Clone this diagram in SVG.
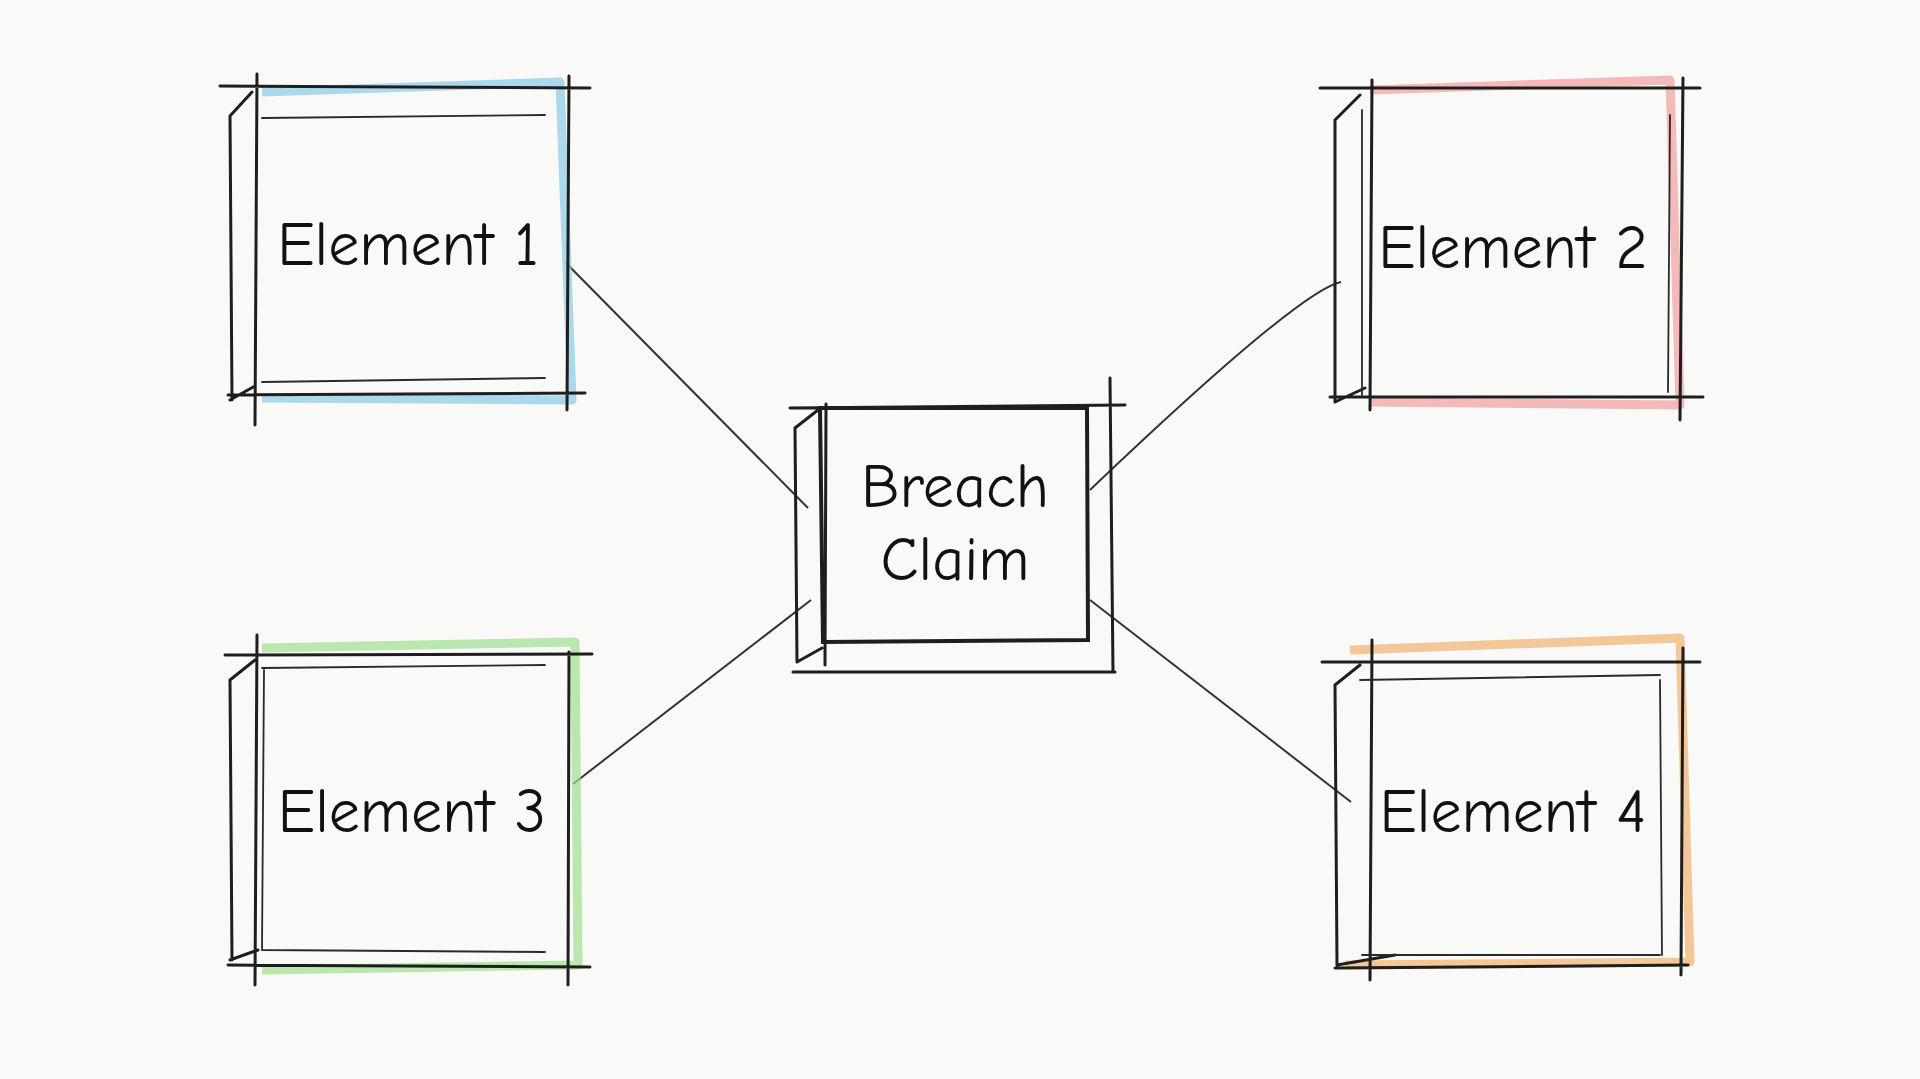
<svg xmlns="http://www.w3.org/2000/svg" width="1920" height="1079" viewBox="0 0 1920 1079">
<style>
.bg{fill:#f9f9f7}
.k{fill:none;stroke:#1e1e1e;stroke-width:3;stroke-linecap:round}
.k2{fill:none;stroke:#2a2a2a;stroke-width:1.8;stroke-linecap:round}
.c{fill:none;stroke-width:9;stroke-opacity:0.7;stroke-linejoin:round}
.t{font-family:"Comic Neue","Liberation Sans",sans-serif;font-size:62px;fill:#111;text-anchor:middle}
.conn{stroke:#333;stroke-width:2;fill:none}
</style>
<rect class="bg" width="1920" height="1079"/>
<g id="connectors">
<path class="conn" d="M566 263 L808 508"/>
<path class="conn" d="M1341 282 Q1300 290 1090 490"/>
<path class="conn" d="M573 784 L811 600"/>
<path class="conn" d="M1351 802 L1090 600"/>
</g>
<g id="element1">
<path class="c" stroke="#8ccbe6" d="M262 92 L560 82 L572 400 L262 398"/>
<path class="k" d="M220 86 L590 88 M257 74 L255 425 M569 76 L567 410 M228 395 L585 393 M230 116 L232 400 M230 116 L252 92 M230 400 L255 386"/>
<path class="k2" d="M262 118 L545 115 M262 382 L545 378"/>
<text class="t" x="408" y="265">Element 1</text>
</g>
<g id="element2">
<path class="c" stroke="#f2a0a0" d="M1370 90 L1670 80 L1680 405 L1370 402"/>
<path class="k" d="M1320 88 L1700 88 M1372 80 L1370 410 M1683 78 L1680 420 M1330 397 L1703 397 M1335 120 L1335 402 M1335 120 L1360 95 M1335 402 L1365 388"/>
<path class="k2" d="M1362 110 L1362 395 M1670 115 L1668 392"/>
<text class="t" x="1513" y="268">Element 2</text>
</g>
<g id="element3">
<path class="c" stroke="#9fe08f" d="M262 648 L575 642 L578 965 L262 970"/>
<path class="k" d="M225 655 L592 654 M257 635 L255 985 M569 652 L568 985 M228 965 L590 967 M230 680 L232 960 M230 680 L255 660 M230 960 L258 950"/>
<path class="k2" d="M262 668 L545 665 M262 950 L545 952 M264 670 L262 950"/>
<text class="t" x="412" y="832">Element 3</text>
</g>
<g id="element4">
<path class="c" stroke="#f2b270" d="M1350 650 L1680 638 L1690 962 L1345 965"/>
<path class="k" d="M1322 662 L1700 662 M1372 640 L1370 980 M1683 648 L1681 975 M1335 968 L1688 965 M1335 685 L1337 965 M1335 685 L1360 665 M1337 965 L1395 955"/>
<path class="k2" d="M1360 680 L1660 675 M1660 680 L1662 955 M1362 955 L1660 955"/>
<text class="t" x="1513" y="832">Element 4</text>
</g>
<g id="center">
<path class="k" d="M820 408 L1087 408 L1088 640 L823 642 Z" style="stroke-width:4"/>
<path class="k" d="M790 408 L1125 405 M1110 378 L1113 672 M793 672 L1115 672 M826 404 L825 665 M795 428 L797 662 M795 428 L818 410 M797 662 L822 648"/>
<text class="t" x="955" y="507">Breach</text>
<text class="t" x="955" y="580">Claim</text>
</g>
</svg>
